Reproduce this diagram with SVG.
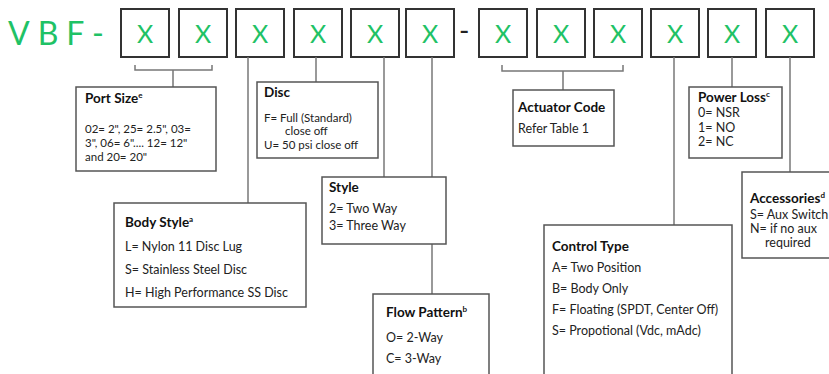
<svg xmlns="http://www.w3.org/2000/svg" width="829" height="374" viewBox="0 0 829 374">
<style>
.bg{fill:#fff}
.cell{fill:#fff;stroke:#333;stroke-width:2}
.x{font-family:"Lato","Liberation Sans",sans-serif;font-size:25px;fill:#1fc266;text-anchor:middle}
.pre{font-family:"Lato","Liberation Sans",sans-serif;font-size:32px;fill:#1fc266;letter-spacing:8px}
.box{fill:#fff;stroke:#555;stroke-width:1.5}
.con{fill:none;stroke:#777;stroke-width:1.5}
.t{font-family:"Lato","Liberation Sans",sans-serif;font-size:13.5px;font-weight:bold;fill:#111}
.l{font-family:"Lato","Liberation Sans",sans-serif;font-size:12.5px;fill:#222}
.s{font-family:"Lato","Liberation Sans",sans-serif;font-size:11.5px;fill:#222}
.sup{font-size:8px}
</style>
<rect class="bg" x="0" y="0" width="829" height="374"/>
<g id="code">
<text class="pre" x="8" y="45">VBF-</text>
<text x="459" y="41" style="font-family:Lato,sans-serif;font-size:28px;fill:#222">-</text>
<rect class="cell" x="121" y="9" width="48" height="48"/><text class="x" x="145" y="43">X</text>
<rect class="cell" x="179" y="9" width="48" height="48"/><text class="x" x="203" y="43">X</text>
<rect class="cell" x="236" y="9" width="48" height="48"/><text class="x" x="260" y="43">X</text>
<rect class="cell" x="294" y="9" width="48" height="48"/><text class="x" x="318" y="43">X</text>
<rect class="cell" x="351" y="9" width="48" height="48"/><text class="x" x="375" y="43">X</text>
<rect class="cell" x="406" y="9" width="48" height="48"/><text class="x" x="430" y="43">X</text>
<rect class="cell" x="479" y="9" width="48" height="48"/><text class="x" x="503" y="43">X</text>
<rect class="cell" x="537" y="9" width="48" height="48"/><text class="x" x="561" y="43">X</text>
<rect class="cell" x="594" y="9" width="48" height="48"/><text class="x" x="618" y="43">X</text>
<rect class="cell" x="651" y="9" width="48" height="48"/><text class="x" x="675" y="43">X</text>
<rect class="cell" x="708" y="9" width="48" height="48"/><text class="x" x="732" y="43">X</text>
<rect class="cell" x="766" y="9" width="48" height="48"/><text class="x" x="790" y="43">X</text>
</g>
<g id="connectors">
<path class="con" d="M135,65 V70 H212 V65 M173,70 V87"/>
<path class="con" d="M248,57 V203"/>
<path class="con" d="M316,57 V82"/>
<path class="con" d="M384,57 V177"/>
<path class="con" d="M432,57 V294"/>
<path class="con" d="M502,65 V71 H623 V65 M563,71 V90"/>
<path class="con" d="M674,57 V225"/>
<path class="con" d="M732,57 V87"/>
<path class="con" d="M790,57 V172"/>
</g>
<g id="port-size">
<rect class="box" x="76" y="87" width="140" height="84"/>
<text class="t" x="85" y="103">Port Size<tspan class="sup" dy="-5">e</tspan></text>
<text class="s" x="85" y="133">02= 2", 25= 2.5", 03=</text>
<text class="s" x="85" y="147">3", 06= 6".... 12= 12"</text>
<text class="s" x="85" y="161">and 20= 20"</text>
</g>
<g id="disc">
<rect class="box" x="257" y="82" width="121" height="76"/>
<text class="t" x="264" y="97">Disc</text>
<text class="s" x="264" y="121.5">F=  Full (Standard)</text>
<text class="s" x="285" y="135">close off</text>
<text class="s" x="264" y="148.5">U= 50 psi close off</text>
</g>
<g id="style">
<rect class="box" x="322" y="177" width="124" height="67"/>
<text class="t" x="329" y="192">Style</text>
<text class="l" x="329" y="213">2= Two Way</text>
<text class="l" x="329" y="230">3= Three Way</text>
</g>
<g id="body-style">
<rect class="box" x="114" y="203" width="192" height="104"/>
<text class="t" x="125" y="227">Body Style<tspan class="sup" dy="-5">a</tspan></text>
<text class="l" x="125" y="251">L= Nylon 11 Disc Lug</text>
<text class="l" x="125" y="274">S= Stainless Steel Disc</text>
<text class="l" x="125" y="297">H= High Performance SS Disc</text>
</g>
<g id="flow-pattern">
<rect class="box" x="373" y="294" width="116" height="90"/>
<text class="t" x="386" y="317">Flow Pattern<tspan class="sup" dy="-5">b</tspan></text>
<text class="l" x="386" y="342">O= 2-Way</text>
<text class="l" x="386" y="363">C= 3-Way</text>
</g>
<g id="actuator-code">
<rect class="box" x="513" y="90" width="101" height="56"/>
<text class="t" x="518" y="112">Actuator Code</text>
<text class="l" x="518" y="133">Refer Table 1</text>
</g>
<g id="power-loss">
<rect class="box" x="689" y="87" width="93" height="71"/>
<text class="t" x="698" y="102">Power Loss<tspan class="sup" dy="-5">c</tspan></text>
<text class="l" x="698" y="117">0= NSR</text>
<text class="l" x="698" y="132">1= NO</text>
<text class="l" x="698" y="146">2= NC</text>
</g>
<g id="accessories">
<rect class="box" x="742" y="172" width="100" height="86"/>
<text class="t" x="750" y="203">Accessories<tspan class="sup" dy="-5">d</tspan></text>
<text class="l" x="750" y="219">S= Aux Switch</text>
<text class="l" x="750" y="233">N= if no aux</text>
<text class="l" x="765" y="247">required</text>
</g>
<g id="control-type">
<rect class="box" x="544" y="225" width="188" height="160"/>
<text class="t" x="552" y="251">Control Type</text>
<text class="l" x="552" y="272">A= Two Position</text>
<text class="l" x="552" y="293">B= Body Only</text>
<text class="l" x="552" y="314">F= Floating (SPDT, Center Off)</text>
<text class="l" x="552" y="335">S= Propotional (Vdc, mAdc)</text>
</g>
</svg>
